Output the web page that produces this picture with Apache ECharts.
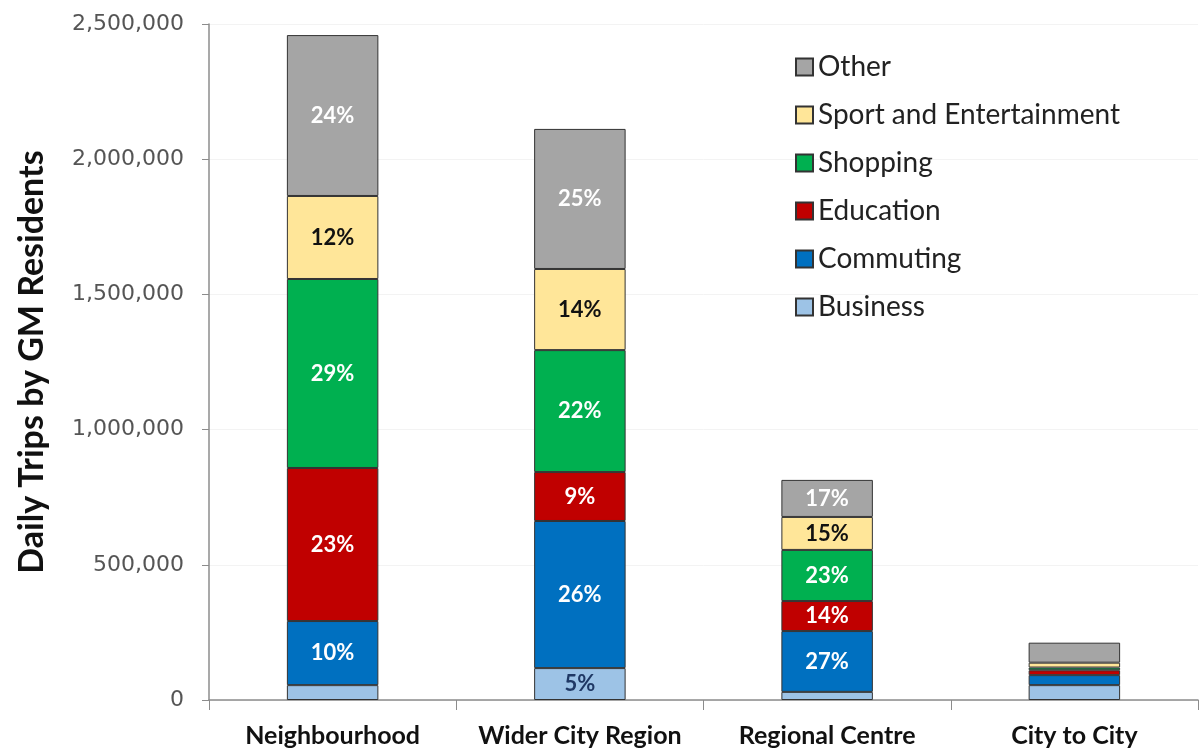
<!DOCTYPE html>
<html>
<head>
<meta charset="utf-8">
<script src="https://cdn.jsdelivr.net/npm/echarts@6/dist/echarts.min.js"></script>
<style>
  html, body { margin: 0; padding: 0; background: #fff; }
  #chart { width: 1202px; height: 751px; }
</style>
</head>
<body>
<div id="chart"></div>
<script>
const categories = ['Neighbourhood', 'Wider City Region', 'Regional Centre', 'City to City'];

const business = [55000, 118000, 30000, 55000];
const commuting = [237000, 544000, 225000, 37000];
const education = [566000, 181000, 111000, 18000];
const shopping = [699000, 451000, 189000, 10000];
const sport = [307000, 300000, 122000, 18000];
const other = [595000, 518000, 137000, 74000];

// percentage labels as printed in the bars ('' = none)
const businessPct = ['', '5%', '', ''];
const commutingPct = ['10%', '26%', '27%', ''];
const educationPct = ['23%', '9%', '14%', ''];
const shoppingPct = ['29%', '22%', '23%', ''];
const sportPct = ['12%', '14%', '15%', ''];
const otherPct = ['24%', '25%', '17%', ''];

const yTicks = [0, 500000, 1000000, 1500000, 2000000, 2500000];

function makeSeries(name, data, pct, color, labelColor) {
    return {
        name: name,
        type: 'bar',
        stack: 'total',
        barWidth: '37%',
        data: data,
        itemStyle: {
            color: color,
            borderColor: '#333333',
            borderWidth: 1
        },
        label: {
            show: true,
            position: 'inside',
            color: labelColor,
            fontFamily: 'Lato',
            fontWeight: 'bold',
            fontSize: 22,
            formatter: function(p) {
                return pct[p.dataIndex];
            }
        }
    };
}

const chart = echarts.init(document.getElementById('chart'));
const option = {
    animation: false,
    grid: {
        left: 209,
        right: 4,
        top: 24,
        bottom: 51
    },
    legend: {
        orient: 'vertical',
        left: 790,
        top: 48,
        icon: 'rect',
        itemWidth: 17,
        itemHeight: 17,
        itemGap: 20,
        textStyle: {
            fontFamily: 'Lato',
            fontSize: 28,
            color: '#222222'
        },
        data: ['Other', 'Sport and Entertainment', 'Shopping', 'Education', 'Commuting', 'Business']
    },
    xAxis: {
        type: 'category',
        data: categories,
        axisLine: { lineStyle: { color: '#8c8c8c', width: 1.5 } },
        axisTick: { show: true, interval: 0, length: 10, lineStyle: { color: '#8c8c8c' } },
        axisLabel: {
            interval: 0,
            hideOverlap: false,
            margin: 23,
            fontFamily: 'Lato',
            fontWeight: 'bold',
            fontSize: 25,
            color: '#111111'
        }
    },
    yAxis: {
        type: 'value',
        min: 0,
        max: yTicks[yTicks.length - 1],
        interval: 500000,
        name: 'Daily Trips by GM Residents',
        nameLocation: 'middle',
        nameGap: 160,
        nameTextStyle: {
            fontFamily: 'Lato',
            fontWeight: 'bold',
            fontSize: 34,
            color: '#111111'
        },
        axisLine: { show: true, lineStyle: { color: '#8c8c8c', width: 1.5 } },
        axisTick: { show: true, length: 7, lineStyle: { color: '#8c8c8c' } },
        splitLine: { show: true, lineStyle: { color: '#f3f3f3' } },
        axisLabel: {
            margin: 25,
            fontFamily: 'DejaVu Sans',
            fontSize: 22,
            color: '#555555',
            formatter: function(v) {
                return v.toLocaleString('en-US');
            }
        }
    },
    series: [
        makeSeries('Business', business, businessPct, '#9dc3e6', '#1f3864'),
        makeSeries('Commuting', commuting, commutingPct, '#0070c0', '#ffffff'),
        makeSeries('Education', education, educationPct, '#c00000', '#ffffff'),
        makeSeries('Shopping', shopping, shoppingPct, '#00b050', '#ffffff'),
        makeSeries('Sport and Entertainment', sport, sportPct, '#ffe699', '#111111'),
        makeSeries('Other', other, otherPct, '#a5a5a5', '#ffffff')
    ]
};
chart.setOption(option);
</script>
</body>
</html>
